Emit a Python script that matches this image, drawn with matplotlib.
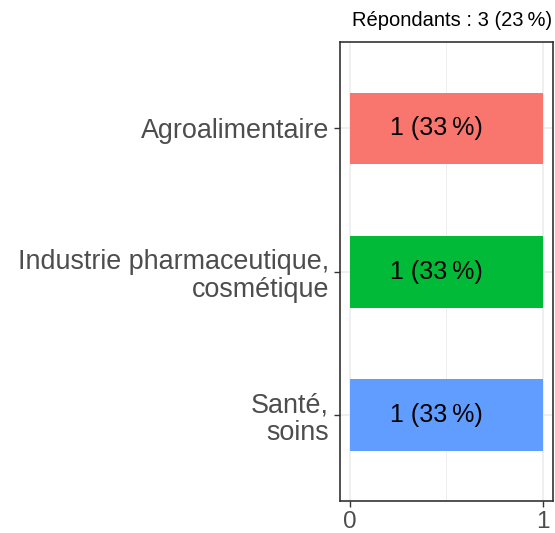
import matplotlib
matplotlib.use("Agg")
import matplotlib.pyplot as plt

# --- Data ---
categories = ["Agroalimentaire", "Industrie pharmaceutique,\ncosmétique", "Santé,\nsoins"]
counts = [1, 1, 1]
labels = ["1 (33\u202f%)", "1 (33\u202f%)", "1 (33\u202f%)"]
colors = ["#F8766D", "#00BA38", "#619CFF"]
title = "Répondants : 3 (23\u202f%)"

plt.rcParams["font.family"] = ["Liberation Sans", "DejaVu Sans"]

# --- Plot ---
fig = plt.figure(figsize=(5.55, 5.33), dpi=100)
ax = fig.add_axes([0.6126, 0.060, 0.3838, 0.8603])

ypos = [len(categories) - i for i in range(len(categories))]
ax.barh(ypos, counts, height=0.5, color=colors, zorder=3)
for y, lab in zip(ypos, labels):
    ax.text(0.45, y, lab, ha="center", va="center", fontsize=18, color="black", zorder=4)

ax.set_xlim(-0.05, 1.05)
ax.set_ylim(0.4, len(categories) + 0.6)
ax.set_xticks([0, 1])
ax.set_xticklabels(["0", "1"])
ax.set_xticks([0.5], minor=True)
ax.set_yticks(ypos)
ax.set_yticklabels(categories, linespacing=1.1)

ax.grid(True, which="major", color="#EBEBEB", linewidth=1.1, zorder=0)
ax.grid(True, which="minor", axis="x", color="#EBEBEB", linewidth=0.6, zorder=0)
ax.tick_params(axis="both", which="major", length=4, width=1, color="#333333",
               labelcolor="#4D4D4D", pad=4)
ax.tick_params(axis="y", which="major", labelsize=19.4)
ax.tick_params(axis="x", which="major", labelsize=17.5, pad=3)
ax.tick_params(axis="x", which="minor", length=0)
for sp in ax.spines.values():
    sp.set_color("#333333")
    sp.set_linewidth(1.2)

fig.text(0.994, 0.962, title, ha="right", va="center", fontsize=14.5, color="black")

fig.savefig("out.png", dpi=100)
